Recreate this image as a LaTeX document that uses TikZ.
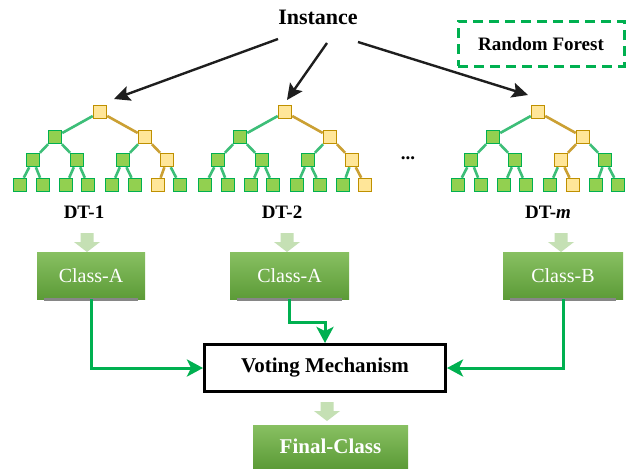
\documentclass[tikz,border=0pt]{standalone}
\usepackage{fontspec}
\setmainfont{Liberation Serif}
\usetikzlibrary{arrows.meta,calc}

\definecolor{leafgreen}{HTML}{92D050}
\definecolor{leafline}{HTML}{00B050}
\definecolor{pathfill}{HTML}{FFE699}
\definecolor{pathline}{HTML}{BF9000}
\definecolor{branchgreen}{HTML}{3DBE78}
\definecolor{branchgold}{HTML}{CBA033}
\definecolor{flowgreen}{HTML}{00B050}
\definecolor{palegreen}{HTML}{C5E0B4}
\definecolor{boxtop}{HTML}{88C062}
\definecolor{boxbottom}{HTML}{5C9B37}
\definecolor{inkdark}{HTML}{1E1E1E}

% marks the nodes of one tree that lie on the decision path
\newcommand\markyellow[2]{%
  \foreach \k in {#2}{\expandafter\gdef\csname yel-#1-\k\endcsname{}}}

% a complete binary tree of depth 3, centred at x = #2
\newcommand\drawtree[2]{%
  \foreach \id/\pid/\dx/\yy in {0/0/0/112, 1/0/-45/137, 2/0/45/137,
      11/1/-67/160, 12/1/-23/160, 21/2/23/160, 22/2/67/160,
      111/11/-80/185, 112/11/-57/185, 121/12/-34/185, 122/12/-12/185,
      211/21/12/185, 212/21/35/185, 221/22/58/185, 222/22/80/185}{%
    \ifcsname yel-#1-\id\endcsname
      \node[ynode] (#1-\id) at (#2+\dx,\yy) {};
      \ifnum\id>0 \draw[yedge] (#1-\pid) -- (#1-\id);\fi
    \else
      \node[gnode] (#1-\id) at (#2+\dx,\yy) {};
      \ifnum\id>0 \draw[gedge] (#1-\pid) -- (#1-\id);\fi
    \fi
  }}

\markyellow{t1}{0,2,22,221}
\markyellow{t2}{0,2,22,222}
\markyellow{t3}{0,2,21,212}

\tikzset{
  tnode/.style={rectangle, minimum size=13pt, inner sep=0pt, line width=1.5pt},
  gnode/.style={tnode, draw=leafline, fill=leafgreen},
  ynode/.style={tnode, draw=pathline, fill=pathfill},
  gedge/.style={draw=branchgreen, line width=2.6pt},
  yedge/.style={draw=branchgold, line width=2.6pt},
  bigarrow/.style={draw=inkdark, line width=2.4pt,
    -{Stealth[length=16pt,width=15pt,inset=3pt]}},
  conn/.style={draw=flowgreen, line width=3pt,
    -{Stealth[length=16pt,width=17pt,inset=4pt]}},
  cbox/.style={rectangle, inner sep=0pt, minimum height=47pt,
    top color=boxtop, bottom color=boxbottom, text=white,
    font=\fontsize{20}{22}\selectfont},
  underbar/.style={draw=gray!95, line width=3pt},
  label/.style={font=\bfseries\fontsize{19}{21}\selectfont, inner sep=0pt},
  fatdown/.pic={\fill[palegreen] (-6.5,0) -- (6.5,0) -- (6.5,9) -- (13,9)
      -- (0,19) -- (-13,9) -- (-6.5,9) -- cycle;}
}

\begin{document}
\begin{tikzpicture}[x=1pt,y=-1pt]
\useasboundingbox[fill=white] (0,0) rectangle (636,469);

% title and legend
\node[font=\bfseries\fontsize{22}{24}\selectfont, inner sep=0pt] (inst) at (318,17) {Instance};
\node[draw=flowgreen, line width=3pt, dash pattern=on 10pt off 6pt,
      minimum width=166pt, minimum height=45pt, inner sep=0pt,
      font=\bfseries\fontsize{19}{21}\selectfont] (rf) at (541,43.5) {Random Forest};

% the decision trees
\drawtree{t1}{100}
\drawtree{t2}{285}
\drawtree{t3}{538}
\node[label] (dots) at (408,158) {...};

\node[label] (dt1) at (84,212) {DT-1};
\node[label] (dt2) at (282,212) {DT-2};
\node[label] (dt3) at (548,212) {DT-\textit{m}};

% instance fed to every tree
\draw[bigarrow] ($(inst.center)+(-40,22)$) -- ($(t1-0.center)+(14,-13)$);
\draw[bigarrow] ($(inst.center)+(9,26)$) -- ($(t2-0.center)+(2,-12)$);
\draw[bigarrow] ($(inst.center)+(40,25)$) -- ($(t3-0.center)+(-10,-17)$);

% per-tree predictions
\pic at (87,233) {fatdown};
\pic at (287,233) {fatdown};
\pic at (561,233) {fatdown};
\node[cbox, minimum width=108pt] (c1) at (91,275.5) {Class-A};
\node[cbox, minimum width=119pt] (c2) at (289.5,275.5) {Class-A};
\node[cbox, minimum width=120pt] (c3) at (563,275.5) {Class-B};
\foreach \c in {c1,c2,c3}
  \draw[underbar] ($(\c.south west)+(7,0)$) -- ($(\c.south east)+(-7,0)$);

% voting and final decision
\node[draw=black, line width=3pt, fill=white, minimum width=241pt,
      minimum height=47pt, inner sep=0pt,
      font=\bfseries\fontsize{21}{23}\selectfont] (vote) at (325,368) {Voting Mechanism};
\draw[conn] (c1.south) |- (vote.west);
\draw[conn] (c2.south) -- ++(0,23) -| (vote.north);
\draw[conn] (c3.south) |- (vote.east);

\pic at (327,402) {fatdown};
\node[cbox, minimum width=155pt, minimum height=43pt,
      font=\bfseries\fontsize{21}{23}\selectfont] (fin) at (330.5,446.5) {Final-Class};
\end{tikzpicture}
\end{document}
